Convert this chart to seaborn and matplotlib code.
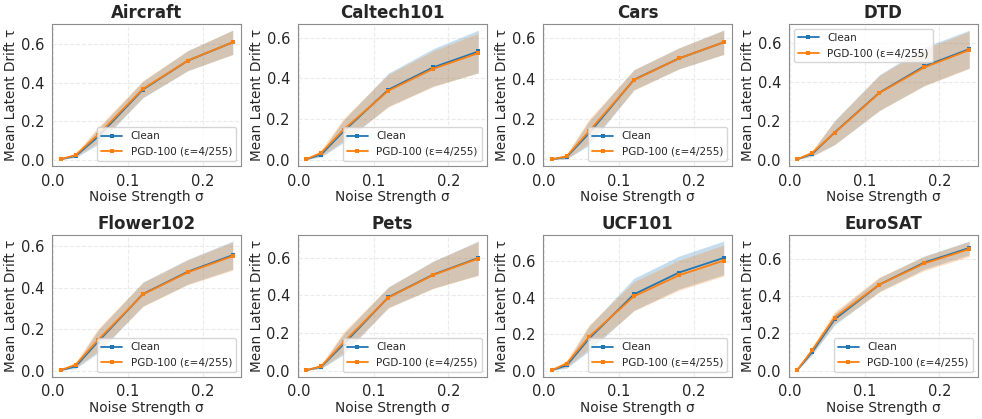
import numpy as np
import pandas as pd
import matplotlib
matplotlib.use("Agg")
import matplotlib.pyplot as plt
import seaborn as sns

sns.set_style("whitegrid", {"grid.linestyle": "--", "grid.color": "#ebebeb",
                            "axes.edgecolor": "#8c8c8c"})
plt.rcParams["font.family"] = ["DejaVu Sans"]

sigma = [0.01, 0.03, 0.06, 0.12, 0.18, 0.24]
datasets = ["Aircraft", "Caltech101", "Cars", "DTD",
            "Flower102", "Pets", "UCF101", "EuroSAT"]

clean_mean = {
    "Aircraft":   [0.003, 0.020, 0.120, 0.365, 0.515, 0.610],
    "Caltech101": [0.002, 0.025, 0.140, 0.345, 0.455, 0.533],
    "Cars":       [0.001, 0.012, 0.130, 0.395, 0.500, 0.580],
    "DTD":        [0.003, 0.030, 0.140, 0.345, 0.480, 0.568],
    "Flower102":  [0.002, 0.020, 0.140, 0.370, 0.478, 0.558],
    "Pets":       [0.002, 0.020, 0.140, 0.390, 0.510, 0.598],
    "UCF101":     [0.002, 0.028, 0.175, 0.418, 0.537, 0.618],
    "EuroSAT":    [0.003, 0.100, 0.275, 0.462, 0.580, 0.658],
}
pgd_mean = {
    "Aircraft":   [0.003, 0.025, 0.130, 0.368, 0.515, 0.610],
    "Caltech101": [0.002, 0.033, 0.148, 0.340, 0.448, 0.525],
    "Cars":       [0.001, 0.015, 0.140, 0.393, 0.500, 0.580],
    "DTD":        [0.003, 0.035, 0.138, 0.343, 0.474, 0.563],
    "Flower102":  [0.002, 0.028, 0.148, 0.368, 0.475, 0.553],
    "Pets":       [0.002, 0.022, 0.150, 0.388, 0.508, 0.595],
    "UCF101":     [0.002, 0.038, 0.185, 0.407, 0.522, 0.603],
    "EuroSAT":    [0.003, 0.110, 0.285, 0.462, 0.575, 0.652],
}
clean_std = {
    "Aircraft":   [0.001, 0.008, 0.040, 0.043, 0.052, 0.063],
    "Caltech101": [0.001, 0.012, 0.055, 0.082, 0.092, 0.105],
    "Cars":       [0.001, 0.010, 0.060, 0.050, 0.052, 0.060],
    "DTD":        [0.001, 0.012, 0.062, 0.092, 0.098, 0.097],
    "Flower102":  [0.001, 0.010, 0.055, 0.058, 0.060, 0.068],
    "Pets":       [0.001, 0.010, 0.055, 0.055, 0.072, 0.090],
    "UCF101":     [0.001, 0.015, 0.068, 0.088, 0.090, 0.092],
    "EuroSAT":    [0.001, 0.015, 0.030, 0.037, 0.035, 0.037],
}
pgd_std = {
    "Aircraft":   [0.001, 0.010, 0.040, 0.043, 0.052, 0.063],
    "Caltech101": [0.001, 0.015, 0.055, 0.080, 0.088, 0.098],
    "Cars":       [0.001, 0.012, 0.060, 0.050, 0.052, 0.060],
    "DTD":        [0.001, 0.015, 0.060, 0.090, 0.095, 0.095],
    "Flower102":  [0.001, 0.012, 0.055, 0.058, 0.060, 0.068],
    "Pets":       [0.001, 0.010, 0.055, 0.055, 0.072, 0.090],
    "UCF101":     [0.001, 0.018, 0.065, 0.080, 0.082, 0.085],
    "EuroSAT":    [0.001, 0.018, 0.032, 0.040, 0.038, 0.040],
}
legend_loc = {"DTD": "upper left"}

colors = {"Clean": "#1f77b4", "PGD-100 (ε=4/255)": "#ff7f0e"}

rows = []
for name in datasets:
    for cond, mean, std in [("Clean", clean_mean, clean_std),
                            ("PGD-100 (ε=4/255)", pgd_mean, pgd_std)]:
        for s, m, sd in zip(sigma, mean[name], std[name]):
            rows.append({"Dataset": name, "Condition": cond, "sigma": s,
                         "mean": m, "std": sd})
df = pd.DataFrame(rows)

fig, axes = plt.subplots(2, 4, figsize=(9.82, 4.19), dpi=100)
for ax, name in zip(axes.flat, datasets):
    sub = df[df.Dataset == name]
    for cond, c in colors.items():
        d = sub[sub.Condition == cond]
        ax.fill_between(d["sigma"], d["mean"] - d["std"], d["mean"] + d["std"],
                        color=c, alpha=0.25, linewidth=0)
    sns.lineplot(data=sub, x="sigma", y="mean", hue="Condition", palette=colors,
                 marker="s", markersize=3, markeredgewidth=0, linewidth=1.3,
                 ax=ax)
    ax.set_title(name, fontsize=12, fontweight="bold", pad=4)
    ax.set_xlabel("Noise Strength σ", fontsize=9.8, labelpad=1)
    ax.set_ylabel("Mean Latent Drift τ", fontsize=9.8, labelpad=2)
    ax.set_xticks([0.0, 0.1, 0.2])
    ax.set_yticks([0.0, 0.2, 0.4, 0.6])
    ax.tick_params(labelsize=10.5, pad=2)
    ax.legend(loc=legend_loc.get(name, "lower right"), fontsize=7.5,
              frameon=True, handlelength=2)
    for sp in ax.spines.values():
        sp.set_linewidth(0.8)

plt.tight_layout(pad=0.3, w_pad=0.6, h_pad=0.8)
plt.savefig("out.png", dpi=100)
